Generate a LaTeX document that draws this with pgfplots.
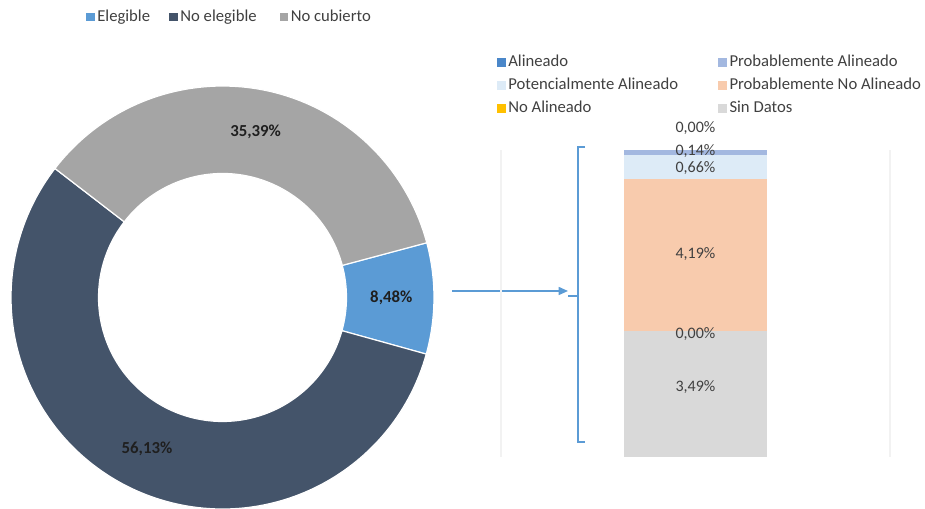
\documentclass[border=0pt]{standalone}
\usepackage{pgfplots}
\pgfplotsset{compat=1.18}
\usepackage{pgfplotstable}
\usepackage{fontspec}
\setmainfont{Carlito}
\usetikzlibrary{arrows.meta}
\pgfkeys{/pgf/number format/assume math mode=true}

\definecolor{cEleg}{HTML}{5B9BD5}
\definecolor{cNoEleg}{HTML}{44546A}
\definecolor{cNoCub}{HTML}{A5A5A5}
\definecolor{cAli}{HTML}{4A87C9}
\definecolor{cProbAli}{HTML}{A3B8E0}
\definecolor{cPotAli}{HTML}{DDEBF7}
\definecolor{cProbNo}{HTML}{F8CBAD}
\definecolor{cNoAli}{HTML}{FFC000}
\definecolor{cSin}{HTML}{D9D9D9}
\definecolor{lblgray}{HTML}{404040}
\definecolor{brace}{HTML}{5B9BD5}

% donut data (percent)
\pgfplotstableread{
name value
Elegible 8.48
NoElegible 56.13
NoCubierto 35.39
}\donutdata

\pgfplotstablegetelem{0}{value}\of\donutdata \let\vA\pgfplotsretval
\pgfplotstablegetelem{1}{value}\of\donutdata \let\vB\pgfplotsretval
\pgfplotstablegetelem{2}{value}\of\donutdata \let\vC\pgfplotsretval

\def\cx{222.5}
\def\cy{211.5}
\def\Rout{158.6pt}
\def\Rin{93pt}
\def\Rmid{126.6pt}
\pgfmathsetmacro{\aS}{15.0}
\pgfmathsetmacro{\aA}{\aS-3.6*\vA}
\pgfmathsetmacro{\aB}{\aA-3.6*\vB}
\pgfmathsetmacro{\aC}{\aB-3.6*\vC}
\pgfmathsetmacro{\mA}{(\aS+\aA)/2}
\pgfmathsetmacro{\mB}{(\aA+\aB)/2}
\pgfmathsetmacro{\mC}{(\aB+\aC)/2}

\newcommand{\donutslice}[3]{%
  \fill[#3, draw=white, line width=0.9pt]
    ([shift={(#1:\Rout)}]axis cs:\cx,\cy) arc[start angle=#1, end angle=#2, radius=\Rout]
    -- ([shift={(#2:\Rin)}]axis cs:\cx,\cy) arc[start angle=#2, end angle=#1, radius=\Rin] -- cycle;
}
\newcommand{\donutlabel}[2]{%
  \node[font=\fontsize{12.6}{14}\selectfont\bfseries, text=black!88] at ([shift={(#1:\Rmid)}]axis cs:\cx,\cy)
    {\pgfmathprintnumber[fixed, fixed zerofill, precision=2, use comma]{#2}\%};
}

\pgfplotsset{
  sqlegend/.style={legend image code/.code={\fill[##1] (0pt,-3.2pt) rectangle (6.4pt,3.2pt);}},
  barframe/.style={
    at={(375.75pt,39pt)}, anchor=south west, scale only axis,
    width=291.75pt, height=230.25pt,
    xmin=-0.5, xmax=0.5, ymin=0, ymax=8.48,
    hide axis, clip=false},
}

\begin{document}
\begin{tikzpicture}
\useasboundingbox (0,0) rectangle (693.75pt,381.75pt);
% ---------------- donut canvas ----------------
\begin{axis}[
  at={(0,0)}, anchor=south west, scale only axis,
  width=693.75pt, height=381.75pt,
  xmin=0, xmax=925, ymin=0, ymax=509,
  hide axis, clip=false,
  sqlegend,
  legend columns=3,
  legend cell align=left,
  legend style={draw=none, fill=none, inner sep=0pt,
    at={(86/925,492/509)}, anchor=west,
    nodes={inner sep=0pt, text height=8.8pt, text depth=2.6pt,
      font=\fontsize{12.5}{14}\selectfont, text=lblgray}},
]
\addlegendimage{fill=cEleg, draw=none}
\addlegendentry{\makebox[55.9pt][l]{\hspace*{1.9pt}Elegible}}
\addlegendimage{fill=cNoEleg, draw=none}
\addlegendentry{\makebox[76.4pt][l]{\hspace*{1.9pt}No elegible}}
\addlegendimage{fill=cNoCub, draw=none}
\addlegendentry{\hspace*{1.9pt}No cubierto}

\donutslice{\aS}{\aA}{cEleg}
\donutslice{\aA}{\aB}{cNoEleg}
\donutslice{\aB}{\aC}{cNoCub}
\donutlabel{\mA}{\vA}
\donutlabel{\mB}{\vB}
\donutlabel{\mC}{\vC}

% arrow and bracket
\draw[brace, line width=1.1pt, -{Triangle[length=7pt,width=6pt]}] (axis cs:452,218) -- (axis cs:568,218);
\draw[brace, line width=1.1pt] (axis cs:585,362) -- (axis cs:578,362) -- (axis cs:578,67) -- (axis cs:585,67);
\draw[brace, line width=1.1pt] (axis cs:568,213) -- (axis cs:578,213);
\end{axis}

% ---------------- stacked bar ----------------
\begin{axis}[
  barframe,
  ybar stacked, bar width=107.25pt,
  sqlegend,
  legend columns=2,
  reverse legend,
  legend cell align=left,
  legend style={draw=none, fill=none, inner sep=0pt,
    at={(-0.0103,1.311)}, anchor=north west, row sep=5.85pt,
    nodes={inner sep=0pt, text height=8.8pt, text depth=2.6pt,
      font=\fontsize{12.5}{14}\selectfont, text=lblgray}},
]
\addplot[fill=cSin, draw=none] coordinates {(0,3.49)};
\addlegendentry{\hspace*{1.9pt}Sin Datos}
\addplot[fill=cNoAli, draw=none] coordinates {(0,0.00)};
\addlegendentry{\makebox[159.5pt][l]{\hspace*{1.9pt}No Alineado}}
\addplot[fill=cProbNo, draw=none] coordinates {(0,4.19)};
\addlegendentry{\hspace*{1.9pt}Probablemente No Alineado}
\addplot[fill=cPotAli, draw=none] coordinates {(0,0.66)};
\addlegendentry{\makebox[159.5pt][l]{\hspace*{1.9pt}Potencialmente Alineado}}
\addplot[fill=cProbAli, draw=none] coordinates {(0,0.14)};
\addlegendentry{\hspace*{1.9pt}Probablemente Alineado}
\addplot[fill=cAli, draw=none] coordinates {(0,0.00)};
\addlegendentry{\makebox[159.5pt][l]{\hspace*{1.9pt}Alineado}}

\draw[black!5, line width=0.8pt] (rel axis cs:0,0) -- (rel axis cs:0,1);
\draw[black!5, line width=0.8pt] (rel axis cs:1,0) -- (rel axis cs:1,1);
\end{axis}

% ---------------- data labels of the bar ----------------
\begin{axis}[barframe]
\addplot[draw=none, mark=none, point meta=explicit,
  nodes near coords={\pgfmathprintnumber[fixed, fixed zerofill, precision=2, use comma]{\pgfplotspointmeta}\%},
  every node near coord/.append style={font=\fontsize{12}{14}\selectfont, text=lblgray, anchor=center}]
  coordinates {(0,1.93) [3.49] (0,3.40) [0.00] (0,5.61) [4.19] (0,7.975) [0.66] (0,8.45) [0.14] (0,9.09) [0.00]};
\end{axis}
\end{tikzpicture}
\end{document}
